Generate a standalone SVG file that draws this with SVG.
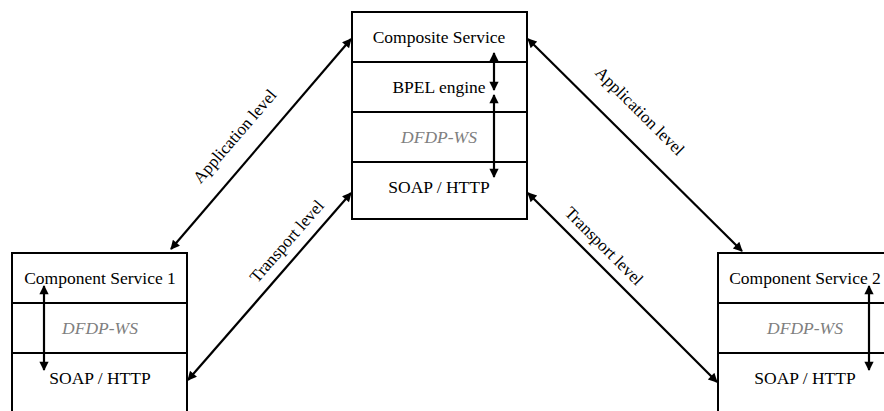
<svg xmlns="http://www.w3.org/2000/svg" width="884" height="411" viewBox="0 0 884 411">
  <style>
    .box { fill: #fff; stroke: #000; stroke-width: 2; }
    .div { stroke: #000; stroke-width: 2; }
    .t { font-family: "Liberation Serif", "DejaVu Serif", "Times New Roman", serif; font-size: 17.5px; fill: #000; text-anchor: middle; }
    .g { fill: #808080; font-style: italic; }
    .lbl { font-family: "Liberation Serif", "DejaVu Serif", "Times New Roman", serif; font-size: 17px; fill: #000; text-anchor: middle; }
    .arr { stroke: #000; stroke-width: 2.2; fill: none; marker-start: url(#ah); marker-end: url(#ah); }
  </style>
  <defs>
    <marker id="ah" viewBox="0 0 10 10" refX="9" refY="5" markerWidth="5" markerHeight="4.2" orient="auto-start-reverse" markerUnits="strokeWidth">
      <path d="M0,0 L10,5 L0,10 z" fill="#000"/>
    </marker>
  </defs>
  <rect width="884" height="411" fill="#fff"/>

  <!-- Composite service stack -->
  <g id="composite">
    <rect class="box" x="352" y="12" width="175" height="207"/>
    <line class="div" x1="352" y1="62" x2="527" y2="62"/>
    <line class="div" x1="352" y1="112" x2="527" y2="112"/>
    <line class="div" x1="352" y1="162" x2="527" y2="162"/>
    <text class="t" x="439" y="43">Composite Service</text>
    <text class="t" x="439" y="93">BPEL engine</text>
    <text class="t g" x="439" y="143">DFDP-WS</text>
    <text class="t" x="439" y="193">SOAP / HTTP</text>
  </g>

  <!-- Component service 1 stack -->
  <g id="component1">
    <rect class="box" x="12" y="253" width="175" height="170"/>
    <line class="div" x1="12" y1="303" x2="187" y2="303"/>
    <line class="div" x1="12" y1="353" x2="187" y2="353"/>
    <text class="t" x="100" y="284">Component Service 1</text>
    <text class="t g" x="100" y="334">DFDP-WS</text>
    <text class="t" x="100" y="384">SOAP / HTTP</text>
  </g>

  <!-- Component service 2 stack -->
  <g id="component2">
    <rect class="box" x="718" y="253" width="175" height="170"/>
    <line class="div" x1="718" y1="303" x2="893" y2="303"/>
    <line class="div" x1="718" y1="353" x2="893" y2="353"/>
    <text class="t" x="805" y="284">Component Service 2</text>
    <text class="t g" x="805" y="334">DFDP-WS</text>
    <text class="t" x="805" y="384">SOAP / HTTP</text>
  </g>

  <!-- Connectors -->
  <g id="connectors">
    <line class="arr" x1="171" y1="249" x2="351" y2="39"/>
    <line class="arr" x1="188" y1="380" x2="351" y2="193"/>
    <line class="arr" x1="528" y1="39" x2="742" y2="251"/>
    <line class="arr" x1="528" y1="193" x2="717" y2="382"/>
    <line class="arr" x1="494" y1="53" x2="494" y2="90"/>
    <line class="arr" x1="494" y1="95" x2="494" y2="177"/>
    <line class="arr" x1="44" y1="286" x2="44" y2="370"/>
    <line class="arr" x1="869" y1="286" x2="869" y2="370"/>
    <text class="lbl" transform="translate(239,140) rotate(-49.2)">Application level</text>
    <text class="lbl" transform="translate(291,245) rotate(-48.9)">Transport level</text>
    <text class="lbl" transform="translate(636,115) rotate(44.9)">Application level</text>
    <text class="lbl" transform="translate(600,250) rotate(45)">Transport level</text>
  </g>
</svg>
